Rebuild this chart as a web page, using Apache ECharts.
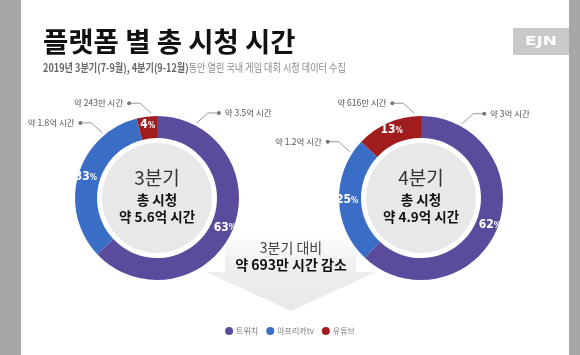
<!DOCTYPE html>
<html><head><meta charset="utf-8">
<script src="https://cdn.jsdelivr.net/npm/echarts@6/dist/echarts.min.js"></script>
<style>html,body{margin:0;padding:0;background:#fff}#c{width:580px;height:355px}</style>
</head><body><div id="c"></div>
<script>
// ---- data ----
const platforms = ['트위치', '아프리카tv', '유튜브'];
const q3Share = [63, 33, 4];
const q4Share = [62, 25, 13];
const q3Hours = ['약 3.5억 시간', '약 1.8억 시간', '약 243만 시간'];
const q4Hours = ['약 3억 시간', '약 1.2억 시간', '약 616만 시간'];
const q3Title = '3분기', q4Title = '4분기';
const q3Total = '약 5.6억 시간', q4Total = '약 4.9억 시간';
const diffTitle = '3분기 대비';
const diffText = '약 693만 시간 감소';
const titleText = '플랫폼 별 총 시청 시간';
const subA = '2019년 3분기(7-9월), 4분기(9-12월)';
const subB = '동안 열린 국내 게임 대회 시청 데이터 수집';

// ---- styles / layout ----
const colors = ['#5b4b9d', '#3a6dc5', '#a11c1c'];
const KR = "'Noto Sans CJK KR', 'Noto Sans', sans-serif";
const NARROW = "'Liberation Sans Narrow', 'DejaVu Sans Condensed', 'Roboto', sans-serif";
const RING = [60, 82];
const sides = {
  left:  { center: [157, 198], anchors: [28, 320, 356] },
  right: { center: [421, 198], anchors: [29, 303, 355.5] }
};

function donut(sideKey, share, hours, qTitle, total) {
  const S = sides[sideKey];
  const items = platforms.map((n, i) => ({ name: n, value: share[i], hours: hours[i], itemStyle: { color: colors[i] } }));
  return [
    {
      type: 'pie', center: S.center, radius: [0, 55], silent: true, z: 1,
      data: [{ value: 1, name: 'disc', itemStyle: { color: '#e8e8e8' } }],
      label: {
        show: true, position: 'center', padding: [0, 0, 6, 0],
        formatter: '{q|' + qTitle + '}\n{t|총 시청}\n{t|' + total + '}',
        rich: {
          q: { fontFamily: KR, fontSize: 19, color: '#333', lineHeight: 26 },
          t: { fontFamily: KR, fontSize: 13.5, fontWeight: 'bold', color: '#111', lineHeight: 17 }
        }
      },
      labelLine: { show: false }, emphasis: { disabled: true }
    },
    {
      type: 'pie', center: S.center, radius: RING, startAngle: 90, clockwise: true, silent: true,
      avoidLabelOverlap: false, data: items,
      label: {
        show: true, position: 'inside',
        formatter: p => '{v|' + p.value + '}{p|%}',
        rich: {
          v: { fontFamily: NARROW, fontSize: 12, fontWeight: 'bold', color: '#fff' },
          p: { fontFamily: NARROW, fontSize: 8, fontWeight: 'bold', color: '#fff', padding: [2, 0, 0, 0] }
        }
      },
      labelLine: { show: false }, emphasis: { disabled: true }
    },
    {
      type: 'pie', center: S.center, radius: RING, startAngle: 90, clockwise: true, silent: true,
      avoidLabelOverlap: false,
      data: items.map(d => ({ name: d.name, value: d.value, hours: d.hours, itemStyle: { color: 'rgba(0,0,0,0)' } })),
      label: {
        show: true, position: 'outside', color: '#555', fontFamily: KR, fontSize: 8.5,
        formatter: p => {
          const a = S.anchors[p.dataIndex];
          return Math.sin(a * Math.PI / 180) >= 0 ? '{d| }  ' + p.data.hours : p.data.hours + '  {d| }';
        },
        rich: { d: { width: 4, height: 4, backgroundColor: '#777', borderRadius: 2 } }
      },
      labelLine: { show: true, lineStyle: { color: '#999', width: 1 } },
      labelLayout: function (params) {
        const a = S.anchors[params.dataIndex] * Math.PI / 180;
        const r = 85;
        const ax = S.center[0] + r * Math.sin(a), ay = S.center[1] - r * Math.cos(a);
        const dir = Math.sin(a) >= 0 ? 1 : -1;
        const bx = ax + dir * 11, by = ay - 10;
        const ex = bx + dir * 11;
        return {
          x: ex - dir * 2, y: by, align: dir > 0 ? 'left' : 'right', verticalAlign: 'middle',
          labelLinePoints: [[ax, ay], [bx, by], [ex, by]]
        };
      },
      emphasis: { disabled: true }
    }
  ];
}

const chart = echarts.init(document.getElementById('c'), null, { renderer: 'canvas' });
chart.setOption({
  backgroundColor: '#ffffff',
  animation: false,
  legend: {
    data: platforms, top: 322, left: 'center', icon: 'circle', itemWidth: 8, itemHeight: 8,
    itemGap: 8, selectedMode: false,
    textStyle: { fontFamily: KR, fontSize: 8, color: '#777', padding: [0, 0, 0, -2] }
  },
  graphic: [
    { type: 'rect', shape: { x: 0, y: 0, width: 21, height: 355 }, style: { fill: '#a7a7a7' }, silent: true },
    { type: 'rect', shape: { x: 569, y: 0, width: 11, height: 355 }, style: { fill: '#a7a7a7' }, silent: true },
    { type: 'rect', shape: { x: 513, y: 28, width: 56, height: 27 }, style: { fill: '#c9c9c9' }, silent: true },
    { type: 'text', x: 541, y: 41.5, scaleX: 1.3, style: { text: 'EJN', fill: '#fff', font: "bold 13px 'DejaVu Sans'", textAlign: 'center', textVerticalAlign: 'middle' }, silent: true },
    { type: 'text', x: 43, y: 41.5, style: { text: titleText, fill: '#111', font: "bold 27.5px 'Noto Sans CJK KR'", textAlign: 'left', textVerticalAlign: 'middle' }, silent: true },
    { type: 'text', x: 43, y: 68, scaleX: 0.83, style: {
        text: '{a|' + subA + '}{b|' + subB + '}', textAlign: 'left', textVerticalAlign: 'middle',
        rich: { a: { fontFamily: KR, fontSize: 11, fontWeight: 'bold', fill: '#666', color: '#666' },
                b: { fontFamily: KR, fontSize: 11, fill: '#8a8a8a', color: '#8a8a8a' } } }, silent: true },
    { type: 'polygon', silent: true, z: -1,
      shape: { points: [[225, 232], [356, 232], [356, 272], [376, 272], [291, 311], [206, 272], [225, 272]] },
      style: { fill: { type: 'linear', x: 0, y: 0, x2: 0, y2: 1,
        colorStops: [{ offset: 0, color: '#ffffff' }, { offset: 0.45, color: '#eeeeee' }, { offset: 1, color: '#e8e8e8' }] } } },
    { type: 'text', x: 291, y: 248, style: { text: diffTitle, fill: '#444', font: "14px 'Noto Sans CJK KR'", textAlign: 'center', textVerticalAlign: 'middle' }, silent: true },
    { type: 'text', x: 291, y: 265, style: { text: diffText, fill: '#111', font: "bold 14px 'Noto Sans CJK KR'", textAlign: 'center', textVerticalAlign: 'middle' }, silent: true }
  ],
  series: [
    ...donut('left', q3Share, q3Hours, q3Title, q3Total),
    ...donut('right', q4Share, q4Hours, q4Title, q4Total)
  ]
});
</script></body></html>
